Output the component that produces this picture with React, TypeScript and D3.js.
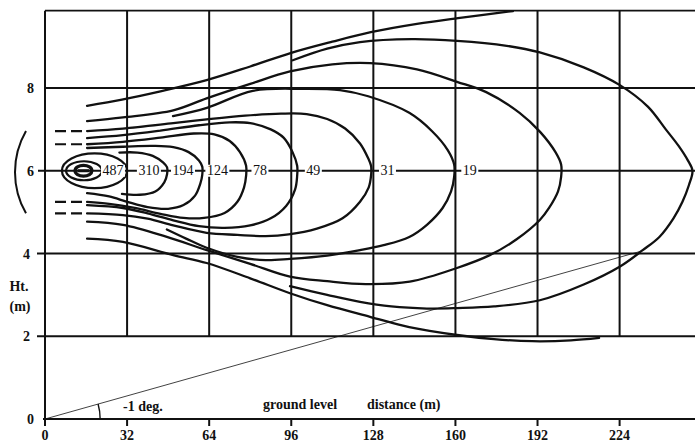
import * as d3 from 'd3';
import React from 'react';

const W = 695;
const H = 444;

// axes
const xTicks = [0, 32, 64, 96, 128, 160, 192, 224];
const yTicks = [0, 2, 4, 6, 8];
const gridX = [32, 64, 96, 128, 160, 192, 224];
const gridY = [2, 4, 8];
const xMax = 253;
const yTop = 9.87;
const plumeY = 6;

// concentration labels along the plume axis
const labelValues = [487, 310, 194, 124, 78, 49, 31, 19];
const labelX = [26.5, 40.5, 53.8, 67.2, 83.8, 104.6, 133.5, 165.6];

// closed rings round the source: [left, right, half height] in m
const rings = [
    [11.7, 18.3, 0.13],
    [8.2, 22.2, 0.23],
    [6.6, 32.0, 0.42],
];

// open contours, [distance m, height m], upper branch then lower branch
const envTop = [[16.4, 7.57], [30, 7.72], [45, 7.92], [63, 8.19], [80, 8.52], [96, 8.85], [112, 9.12], [127, 9.35], [145, 9.55], [161, 9.69], [182.4, 9.86]];
const envBottom = [[16.4, 4.36], [30.4, 4.28], [50, 3.96], [63, 3.77], [80, 3.4], [95.5, 3.04], [110, 2.75], [126.7, 2.47], [142, 2.22], [160.6, 2.03], [175, 1.93], [190, 1.88], [205, 1.9], [216, 1.96]];
const c693 = [[96.6, 8.67], [110, 8.95], [122.8, 9.11], [143, 9.18], [160.6, 9.14], [180, 9.02], [192.9, 8.86], [210, 8.5], [224.1, 8.07], [235, 7.55], [242, 7.0], [247, 6.6], [250.6, 6.25], [252.4, 6.0],
    [251, 5.65], [248.5, 5.25], [245, 4.85], [239.5, 4.4], [233, 4.08], [224, 3.68], [210, 3.25], [192.9, 2.87], [175, 2.72], [160.6, 2.68], [148.9, 2.67], [135, 2.72], [122.8, 2.83], [110, 3.0], [95.5, 3.21]];
const c562 = [[16.4, 7.2], [30.4, 7.29], [50, 7.46], [63, 7.75], [80, 8.1], [95.5, 8.4], [112, 8.57], [126.7, 8.6], [145, 8.45], [160.6, 8.15], [172, 7.9], [185, 7.4], [193, 6.94], [199, 6.45], [201.2, 6.15], [201.2, 5.85],
    [200, 5.5], [196.5, 5.1], [192.9, 4.81], [184, 4.35], [173.4, 3.96], [160.6, 3.65], [142.2, 3.32], [125, 3.26], [110, 3.33], [95.5, 3.44], [80, 3.75], [63.1, 4.08], [47.5, 4.4], [30.4, 4.69], [16.4, 4.77]];
const c19 = [[49.9, 7.32], [63.1, 7.52], [81, 7.93], [100, 7.98], [115, 7.95], [126, 7.8], [142, 7.4], [151, 6.95], [157, 6.5], [159.5, 6.15], [159.5, 5.85],
    [158.3, 5.5], [155, 5.1], [149, 4.7], [142, 4.4], [132, 4.2], [122.8, 4.08], [110, 3.95], [95.5, 3.87], [86, 3.84], [75, 3.92], [63, 4.14], [55, 4.36], [47.5, 4.58]];
const c31 = [[16.4, 6.96], [30.4, 7.02], [50, 7.15], [63, 7.24], [78, 7.33], [92, 7.38], [102, 7.37], [110, 7.25], [117, 7.02], [122.8, 6.66], [126, 6.3], [127.1, 6.12], [127.1, 5.88],
    [126.2, 5.6], [122.8, 5.25], [116, 4.85], [106, 4.6], [95, 4.46], [86, 4.42], [75, 4.45], [63, 4.5], [50, 4.68], [40, 4.84], [30.4, 4.93], [16.4, 4.97]];
const c49 = [[16.4, 6.79], [30.4, 6.86], [45, 6.97], [60, 7.1], [72, 7.17], [80, 7.15], [88, 7.0], [93, 6.8], [96.5, 6.45], [98.3, 6.12], [98.3, 5.88],
    [97.5, 5.55], [94, 5.15], [88, 4.85], [80, 4.68], [70, 4.62], [60, 4.66], [50, 4.8], [40, 4.97], [30.4, 5.1], [16.4, 5.17]];
const c78 = [[16.4, 6.64], [30.4, 6.7], [45, 6.8], [58, 6.9], [66, 6.88], [72, 6.72], [76, 6.45], [78.4, 6.12], [78.4, 5.88],
    [77.6, 5.6], [75, 5.25], [70, 4.98], [62, 4.86], [54, 4.86], [45, 4.96], [35, 5.1], [25, 5.2], [16.4, 5.25]];
const c124 = [[16.4, 6.55], [30.4, 6.58], [42, 6.6], [50, 6.57], [56, 6.45], [60, 6.25], [61.3, 6.1], [61.3, 5.9],
    [60.6, 5.7], [58.5, 5.4], [54, 5.17], [48, 5.08], [40, 5.12], [32, 5.25], [25, 5.38], [16.4, 5.46]];
const c194 = [[29, 6.44], [36, 6.44], [42, 6.36], [46, 6.2], [47.6, 6.08], [47.6, 5.92],
    [46.5, 5.72], [43, 5.5], [37, 5.42], [30, 5.44]];
const contours = [envTop, envBottom, c693, c562, c19, c31, c49, c78, c124, c194];

// dashed continuations of the tails, heights in m
const dashedTails = [6.96, 6.64, 5.25, 4.97];
const dashFrom = 3.9;
const dashTo = 16.4;

// ground slope line
const slopeDeg = 1;
const slopeEnd = 232;
const arcRadius = 21.5;

const serif = "'Liberation Serif', 'Times New Roman', serif";

const App = () => {
    const x = d3.scaleLinear().domain([0, xMax]).range([45, 694]);
    const y = d3.scaleLinear().domain([0, 8]).range([419, 88]);
    const line = d3.line<number[]>().x(d => x(d[0])).y(d => y(d[1])).curve(d3.curveCatmullRom.alpha(0.5));

    const slope = Math.tan(slopeDeg * Math.PI / 180);
    const pxAngle = Math.atan2(y(0) - y(slope * slopeEnd), x(slopeEnd) - x(0));
    const r = x(arcRadius) - x(0);
    const arcPath = d3.path();
    arcPath.arc(x(0), y(0), r, 0, -pxAngle, true);

    // bracket "(" spanning the dashed tails
    const bTop = y(d3.max(dashedTails) as number);
    const bBot = y(d3.min(dashedTails) as number);
    const half = (bBot - bTop) / 2;
    const sag = 11;
    const br = (half * half + sag * sag) / (2 * sag);
    const bcx = 15 + br;
    const bcy = (bTop + bBot) / 2;
    const ba = Math.asin(half / br);
    const bracket = d3.path();
    bracket.arc(bcx, bcy, br, Math.PI + ba, Math.PI - ba, true);

    const ink = '#111';

    return (
        <svg width={W} height={H} style={{ position: 'absolute', left: 0, top: 0, background: '#fff' }}>
            {/* grid */}
            {gridX.map(g => (
                <line key={'gx' + g} x1={x(g)} x2={x(g)} y1={y(yTop)} y2={y(2)} stroke={ink} strokeWidth={2} />
            ))}
            {gridY.map(g => (
                <line key={'gy' + g} x1={g === 8 ? x(0) : x(0) - 8} x2={W} y1={y(g)} y2={y(g)} stroke={ink} strokeWidth={2} />
            ))}
            <line x1={x(0)} x2={W} y1={y(yTop)} y2={y(yTop)} stroke={ink} strokeWidth={1.6} />
            <line x1={x(0)} x2={x(0)} y1={y(yTop)} y2={y(0)} stroke={ink} strokeWidth={2} />
            <line x1={x(0) - 2} x2={W} y1={y(0)} y2={y(0)} stroke={ink} strokeWidth={2.2} />
            {xTicks.map(t => (
                <line key={'xt' + t} x1={x(t)} x2={x(t)} y1={y(0)} y2={y(0) + 7} stroke={ink} strokeWidth={2} />
            ))}

            {/* slope line */}
            <line x1={x(0)} y1={y(0)} x2={x(slopeEnd)} y2={y(slope * slopeEnd)} stroke={ink} strokeWidth={0.8} />
            <path d={arcPath.toString()} fill="none" stroke={ink} strokeWidth={1.4} />

            {/* plume axis */}
            <line x1={x(0) - 7} x2={W} y1={y(plumeY)} y2={y(plumeY)} stroke={ink} strokeWidth={2.2} />

            {/* contours */}
            {contours.map((c, i) => (
                <path key={'c' + i} d={line(c) as string} fill="none" stroke={ink} strokeWidth={2.3} strokeLinecap="round" />
            ))}
            {rings.map((rg, i) => (
                <ellipse key={'r' + i} cx={x((rg[0] + rg[1]) / 2)} cy={y(plumeY)} rx={(x(rg[1]) - x(rg[0])) / 2}
                    ry={y(plumeY - rg[2]) - y(plumeY)} fill="none" stroke={ink} strokeWidth={i === 0 ? 3.2 : 2.2} />
            ))}
            <line x1={x(rings[0][0] + 1)} x2={x(rings[0][1] - 1)} y1={y(plumeY)} y2={y(plumeY)} stroke={ink} strokeWidth={3} />
            {dashedTails.map(t => (
                <line key={'d' + t} x1={x(dashFrom)} x2={x(dashTo)} y1={y(t)} y2={y(t)} stroke={ink} strokeWidth={2.2} strokeDasharray="11 5" />
            ))}
            <path d={bracket.toString()} fill="none" stroke={ink} strokeWidth={2} />

            {/* concentration labels */}
            {labelValues.map((v, i) => {
                const w = String(v).length * 7 + 3;
                return (
                    <g key={'l' + v}>
                        <rect x={x(labelX[i]) - w / 2} y={y(plumeY) - 6} width={w} height={12} fill="#fff" />
                        <text x={x(labelX[i])} y={y(plumeY) + 4.5} textAnchor="middle" fontFamily={serif} fontSize={14} fill={ink}>{v}</text>
                    </g>
                );
            })}

            {/* axis labels */}
            {yTicks.map(t => (
                <text key={'yl' + t} x={t === 2 || t === 4 ? 30 : 34} y={y(t) + 5} textAnchor="end" fontFamily={serif} fontWeight="bold" fontSize={14} fill={ink}>{t}</text>
            ))}
            {xTicks.map(t => (
                <text key={'xl' + t} x={x(t)} y={440} textAnchor="middle" fontFamily={serif} fontWeight="bold" fontSize={14} fill={ink}>{t}</text>
            ))}
            <text x={19} y={291} textAnchor="middle" fontFamily={serif} fontWeight="bold" fontSize={14} fill={ink}>Ht.</text>
            <text x={20} y={311} textAnchor="middle" fontFamily={serif} fontWeight="bold" fontSize={14} fill={ink}>(m)</text>
            <text x={123} y={411} fontFamily={serif} fontWeight="bold" fontSize={14} fill={ink}>-1 deg.</text>
            <text x={263} y={409} fontFamily={serif} fontWeight="bold" fontSize={14} fill={ink}>ground level</text>
            <text x={367} y={409} fontFamily={serif} fontWeight="bold" fontSize={14} fill={ink}>distance (m)</text>
        </svg>
    );
};

export default App;
